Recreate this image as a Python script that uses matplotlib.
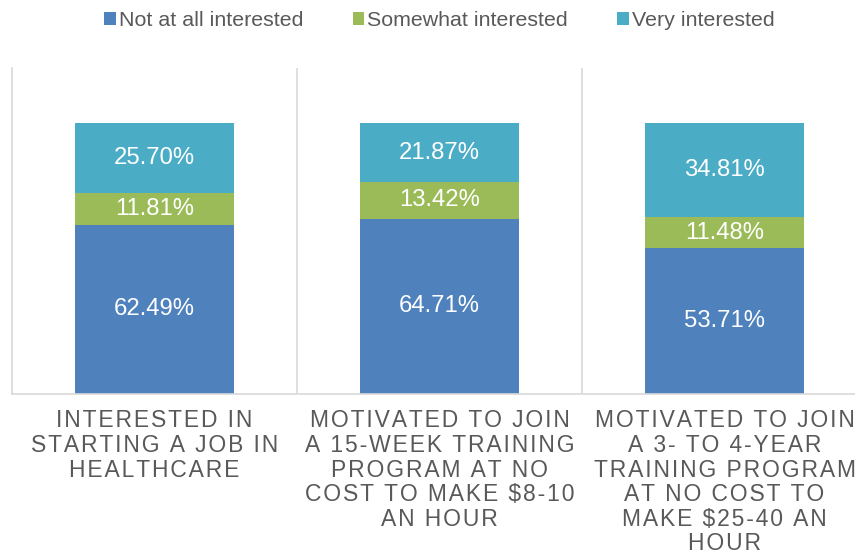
import matplotlib.pyplot as plt
from matplotlib.patches import Patch

plt.rcParams["font.family"] = ["Liberation Sans", "DejaVu Sans"]

categories = [
    "INTERESTED IN\nSTARTING A JOB IN\nHEALTHCARE",
    "MOTIVATED TO JOIN\nA 15-WEEK TRAINING\nPROGRAM AT NO\nCOST TO MAKE $8-10\nAN HOUR",
    "MOTIVATED TO JOIN\nA 3- TO 4-YEAR\nTRAINING PROGRAM\nAT NO COST TO\nMAKE $25-40 AN\nHOUR",
]
series_names = ["Not at all interested", "Somewhat interested", "Very interested"]
not_at_all = [62.49, 64.71, 53.71]
somewhat = [11.81, 13.42, 11.48]
very = [25.70, 21.87, 34.81]

colors = ["#4F81BD", "#9BBB59", "#4BACC6"]
text_grey = "#595959"
line_grey = "#D9D9D9"


def spaced(label):
    # fake letter spacing with hair spaces
    return "\n".join("\u200a".join(line) for line in label.split("\n"))


fig = plt.figure(figsize=(8.55, 5.53), dpi=100)
ax = fig.add_axes([12 / 855, 1 - 394 / 553, 855 / 855, (394 - 68) / 553])

x = list(range(len(categories)))
bottom = [0.0] * len(categories)
for name, vals, col in zip(series_names, [not_at_all, somewhat, very], colors):
    ax.bar(x, vals, width=0.56, bottom=bottom, color=col, label=name, zorder=2)
    for xi, b, v in zip(x, bottom, vals):
        ax.text(xi, b + v / 2, f"{v:.2f}%", ha="center", va="center",
                color="white", fontsize=17.2, zorder=3)
    bottom = [b + v for b, v in zip(bottom, vals)]

ax.set_xlim(-0.5, 2.5)
ax.set_ylim(0, 120.3)

for sep in [0.5, 1.5]:
    ax.axvline(sep, color=line_grey, lw=1.2, zorder=1)

for side in ["top", "right"]:
    ax.spines[side].set_visible(False)
for side in ["left", "bottom"]:
    ax.spines[side].set_color(line_grey)
    ax.spines[side].set_linewidth(1.2)

ax.set_yticks([])
ax.set_xticks(x)
ax.set_xticklabels([spaced(c) for c in categories], fontsize=16.5,
                   color=text_grey, linespacing=1.09)
ax.tick_params(axis="x", length=0, pad=11)

handles = [Patch(facecolor=c) for c in colors]
ax.legend(handles, series_names, loc="center", bbox_to_anchor=(0.5, 1 + (68 - 21) / 326),
          ncol=3, frameon=False, fontsize=15.4, labelcolor=text_grey,
          handlelength=0.55, handleheight=0.55, handletextpad=0.15, columnspacing=2.3)

fig.savefig("out.png", dpi=100)
